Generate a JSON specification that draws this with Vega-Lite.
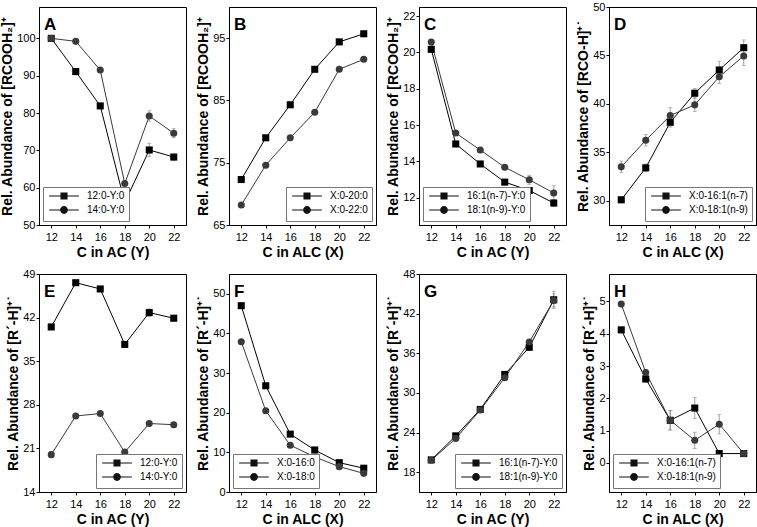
{
"$schema": "https://vega.github.io/schema/vega-lite/v6.json",
"padding": {"left": 0, "top": 0, "right": 0, "bottom": 0},
"background": "white",
"data": {"values": [
{"p":"A","s":"12:0-Y:0","x":12,"v":100,"e":0.4},{"p":"A","s":"12:0-Y:0","x":14,"v":91.1,"e":0.4},{"p":"A","s":"12:0-Y:0","x":16,"v":81.9,"e":0.4},{"p":"A","s":"12:0-Y:0","x":18,"v":56.0,"e":0.5},{"p":"A","s":"12:0-Y:0","x":20,"v":70.1,"e":1.8},{"p":"A","s":"12:0-Y:0","x":22,"v":68.2,"e":0.8},
{"p":"A","s":"14:0-Y:0","x":12,"v":100,"e":0.3},{"p":"A","s":"14:0-Y:0","x":14,"v":99.2,"e":0.3},{"p":"A","s":"14:0-Y:0","x":16,"v":91.5,"e":0.4},{"p":"A","s":"14:0-Y:0","x":18,"v":61.1,"e":0.5},{"p":"A","s":"14:0-Y:0","x":20,"v":79.2,"e":1.4},{"p":"A","s":"14:0-Y:0","x":22,"v":74.6,"e":1.2},
{"p":"B","s":"X:0-20:0","x":12,"v":72.3,"e":0.3},{"p":"B","s":"X:0-20:0","x":14,"v":79.0,"e":0.3},{"p":"B","s":"X:0-20:0","x":16,"v":84.3,"e":0.3},{"p":"B","s":"X:0-20:0","x":18,"v":90.0,"e":0.3},{"p":"B","s":"X:0-20:0","x":20,"v":94.4,"e":0.3},{"p":"B","s":"X:0-20:0","x":22,"v":95.7,"e":0.3},
{"p":"B","s":"X:0-22:0","x":12,"v":68.2,"e":0.3},{"p":"B","s":"X:0-22:0","x":14,"v":74.6,"e":0.3},{"p":"B","s":"X:0-22:0","x":16,"v":79.0,"e":0.3},{"p":"B","s":"X:0-22:0","x":18,"v":83.1,"e":0.3},{"p":"B","s":"X:0-22:0","x":20,"v":90.0,"e":0.3},{"p":"B","s":"X:0-22:0","x":22,"v":91.6,"e":0.3},
{"p":"C","s":"16:1(n-7)-Y:0","x":12,"v":20.17,"e":0.1},{"p":"C","s":"16:1(n-7)-Y:0","x":14,"v":14.96,"e":0.1},{"p":"C","s":"16:1(n-7)-Y:0","x":16,"v":13.86,"e":0.1},{"p":"C","s":"16:1(n-7)-Y:0","x":18,"v":12.86,"e":0.1},{"p":"C","s":"16:1(n-7)-Y:0","x":20,"v":12.40,"e":0.1},{"p":"C","s":"16:1(n-7)-Y:0","x":22,"v":11.71,"e":0.2},
{"p":"C","s":"18:1(n-9)-Y:0","x":12,"v":20.57,"e":0.1},{"p":"C","s":"18:1(n-9)-Y:0","x":14,"v":15.56,"e":0.1},{"p":"C","s":"18:1(n-9)-Y:0","x":16,"v":14.63,"e":0.1},{"p":"C","s":"18:1(n-9)-Y:0","x":18,"v":13.68,"e":0.1},{"p":"C","s":"18:1(n-9)-Y:0","x":20,"v":12.99,"e":0.25},{"p":"C","s":"18:1(n-9)-Y:0","x":22,"v":12.26,"e":0.4},
{"p":"D","s":"X:0-16:1(n-7)","x":12,"v":30.1,"e":0.3},{"p":"D","s":"X:0-16:1(n-7)","x":14,"v":33.4,"e":0.4},{"p":"D","s":"X:0-16:1(n-7)","x":16,"v":38.1,"e":0.5},{"p":"D","s":"X:0-16:1(n-7)","x":18,"v":41.1,"e":0.5},{"p":"D","s":"X:0-16:1(n-7)","x":20,"v":43.5,"e":0.9},{"p":"D","s":"X:0-16:1(n-7)","x":22,"v":45.8,"e":0.8},
{"p":"D","s":"X:0-18:1(n-9)","x":12,"v":33.5,"e":0.6},{"p":"D","s":"X:0-18:1(n-9)","x":14,"v":36.25,"e":0.6},{"p":"D","s":"X:0-18:1(n-9)","x":16,"v":38.8,"e":0.8},{"p":"D","s":"X:0-18:1(n-9)","x":18,"v":39.9,"e":0.7},{"p":"D","s":"X:0-18:1(n-9)","x":20,"v":42.8,"e":0.7},{"p":"D","s":"X:0-18:1(n-9)","x":22,"v":44.95,"e":1.0},
{"p":"E","s":"12:0-Y:0","x":12,"v":40.5,"e":0.3},{"p":"E","s":"12:0-Y:0","x":14,"v":47.6,"e":0.3},{"p":"E","s":"12:0-Y:0","x":16,"v":46.6,"e":0.3},{"p":"E","s":"12:0-Y:0","x":18,"v":37.7,"e":0.3},{"p":"E","s":"12:0-Y:0","x":20,"v":42.8,"e":0.6},{"p":"E","s":"12:0-Y:0","x":22,"v":41.9,"e":0.4},
{"p":"E","s":"14:0-Y:0","x":12,"v":20.0,"e":0.3},{"p":"E","s":"14:0-Y:0","x":14,"v":26.2,"e":0.3},{"p":"E","s":"14:0-Y:0","x":16,"v":26.6,"e":0.3},{"p":"E","s":"14:0-Y:0","x":18,"v":20.4,"e":0.3},{"p":"E","s":"14:0-Y:0","x":20,"v":25.0,"e":0.3},{"p":"E","s":"14:0-Y:0","x":22,"v":24.8,"e":0.3},
{"p":"F","s":"X:0-16:0","x":12,"v":47.0,"e":0.3},{"p":"F","s":"X:0-16:0","x":14,"v":26.8,"e":0.3},{"p":"F","s":"X:0-16:0","x":16,"v":14.6,"e":0.3},{"p":"F","s":"X:0-16:0","x":18,"v":10.6,"e":0.3},{"p":"F","s":"X:0-16:0","x":20,"v":7.4,"e":0.3},{"p":"F","s":"X:0-16:0","x":22,"v":6.0,"e":0.3},
{"p":"F","s":"X:0-18:0","x":12,"v":37.9,"e":0.3},{"p":"F","s":"X:0-18:0","x":14,"v":20.5,"e":0.3},{"p":"F","s":"X:0-18:0","x":16,"v":11.8,"e":0.3},{"p":"F","s":"X:0-18:0","x":18,"v":8.85,"e":0.3},{"p":"F","s":"X:0-18:0","x":20,"v":6.4,"e":0.3},{"p":"F","s":"X:0-18:0","x":22,"v":4.7,"e":0.3},
{"p":"G","s":"16:1(n-7)-Y:0","x":12,"v":19.86,"e":0.2},{"p":"G","s":"16:1(n-7)-Y:0","x":14,"v":23.5,"e":0.2},{"p":"G","s":"16:1(n-7)-Y:0","x":16,"v":27.5,"e":0.3},{"p":"G","s":"16:1(n-7)-Y:0","x":18,"v":32.8,"e":0.3},{"p":"G","s":"16:1(n-7)-Y:0","x":20,"v":36.9,"e":0.4},{"p":"G","s":"16:1(n-7)-Y:0","x":22,"v":44.1,"e":1.3},
{"p":"G","s":"18:1(n-9)-Y:0","x":12,"v":19.8,"e":0.2},{"p":"G","s":"18:1(n-9)-Y:0","x":14,"v":23.1,"e":0.2},{"p":"G","s":"18:1(n-9)-Y:0","x":16,"v":27.4,"e":0.3},{"p":"G","s":"18:1(n-9)-Y:0","x":18,"v":32.3,"e":0.3},{"p":"G","s":"18:1(n-9)-Y:0","x":20,"v":37.7,"e":0.4},{"p":"G","s":"18:1(n-9)-Y:0","x":22,"v":44.0,"e":1.0},
{"p":"H","s":"X:0-16:1(n-7)","x":12,"v":4.12,"e":0.05},{"p":"H","s":"X:0-16:1(n-7)","x":14,"v":2.6,"e":0.1},{"p":"H","s":"X:0-16:1(n-7)","x":16,"v":1.32,"e":0.3},{"p":"H","s":"X:0-16:1(n-7)","x":18,"v":1.7,"e":0.33},{"p":"H","s":"X:0-16:1(n-7)","x":20,"v":0.29,"e":0.05},{"p":"H","s":"X:0-16:1(n-7)","x":22,"v":0.29,"e":0.05},
{"p":"H","s":"X:0-18:1(n-9)","x":12,"v":4.92,"e":0.05},{"p":"H","s":"X:0-18:1(n-9)","x":14,"v":2.8,"e":0.1},{"p":"H","s":"X:0-18:1(n-9)","x":16,"v":1.32,"e":0.3},{"p":"H","s":"X:0-18:1(n-9)","x":18,"v":0.7,"e":0.25},{"p":"H","s":"X:0-18:1(n-9)","x":20,"v":1.2,"e":0.3},{"p":"H","s":"X:0-18:1(n-9)","x":22,"v":0.29,"e":0.05}
]},
"columns": 4,
"spacing": {"row": 49, "column": 43},
"bounds": "flush",
"resolve": {"scale": {"x": "independent", "y": "independent", "shape": "independent", "color": "independent"}, "legend": {"shape": "independent", "color": "independent"}},
"concat": [
{"title": {"text": "A", "offset": -27}, "width": 147, "height": 218, "transform": [{"filter": "datum.p === 'A'"}],
 "encoding": {"x": {"field": "x", "type": "quantitative", "scale": {"domain": [11, 23], "nice": false, "zero": false}, "axis": {"values": [12,14,16,18,20,22], "title": "C in AC (Y)"}},
  "y": {"field": "v", "type": "quantitative", "scale": {"domain": [50, 108.4], "nice": false, "zero": false}, "axis": {"values": [50,60,70,80,90,100], "title": "Rel. Abundance of [RCOOH₂]⁺"}}},
 "resolve": {"scale": {"shape": "independent"}, "legend": {"shape": "independent"}},
 "layer": [
  {"mark": {"type": "errorbar", "ticks": {"size": 4}, "color": "#888", "thickness": 0.8}, "encoding": {"yError": {"field": "e"}}},
  {"mark": {"type": "line", "strokeWidth": 1}, "encoding": {"color": {"field": "s", "type": "nominal", "scale": {"range": ["#000000", "#3a3a3a"]}, "legend": null}}},
  {"mark": {"type": "point", "filled": true, "size": 50, "opacity": 1}, "encoding": {"color": {"field": "s", "type": "nominal", "scale": {"range": ["#000000", "#3a3a3a"]}, "legend": null}, "shape": {"field": "s", "type": "nominal", "scale": {"range": ["square", "circle"]}, "legend": null}}},
  {"transform": [{"filter": "false"}], "mark": {"type": "point", "filled": true, "color": "#111", "opacity": 1},
   "encoding": {"shape": {"field": "s", "type": "nominal", "scale": {"domain": ["12:0-Y:0", "14:0-Y:0"], "range": ["M-4.2,-0.15H4.2V0.15H-4.2ZM-1,-1H1V1H-1Z", "M-4.2,-0.15H4.2V0.15H-4.2ZM1.1,0A1.1,1.1,0,1,1,-1.1,0A1.1,1.1,0,1,1,1.1,0Z"]}, "legend": {"title": null, "orient": "bottom-left"}}}}
 ]},
{"title": {"text": "B", "offset": -27}, "width": 147, "height": 218, "transform": [{"filter": "datum.p === 'B'"}],
 "encoding": {"x": {"field": "x", "type": "quantitative", "scale": {"domain": [11, 23], "nice": false, "zero": false}, "axis": {"values": [12,14,16,18,20,22], "title": "C in ALC (X)"}},
  "y": {"field": "v", "type": "quantitative", "scale": {"domain": [65, 100], "nice": false, "zero": false}, "axis": {"values": [65,75,85,95], "title": "Rel. Abundance of [RCOOH₂]⁺"}}},
 "resolve": {"scale": {"shape": "independent"}, "legend": {"shape": "independent"}},
 "layer": [
  {"mark": {"type": "errorbar", "ticks": {"size": 4}, "color": "#888", "thickness": 0.8}, "encoding": {"yError": {"field": "e"}}},
  {"mark": {"type": "line", "strokeWidth": 1}, "encoding": {"color": {"field": "s", "type": "nominal", "scale": {"range": ["#000000", "#3a3a3a"]}, "legend": null}}},
  {"mark": {"type": "point", "filled": true, "size": 50, "opacity": 1}, "encoding": {"color": {"field": "s", "type": "nominal", "scale": {"range": ["#000000", "#3a3a3a"]}, "legend": null}, "shape": {"field": "s", "type": "nominal", "scale": {"range": ["square", "circle"]}, "legend": null}}},
  {"transform": [{"filter": "false"}], "mark": {"type": "point", "filled": true, "color": "#111", "opacity": 1},
   "encoding": {"shape": {"field": "s", "type": "nominal", "scale": {"domain": ["X:0-20:0", "X:0-22:0"], "range": ["M-4.2,-0.15H4.2V0.15H-4.2ZM-1,-1H1V1H-1Z", "M-4.2,-0.15H4.2V0.15H-4.2ZM1.1,0A1.1,1.1,0,1,1,-1.1,0A1.1,1.1,0,1,1,1.1,0Z"]}, "legend": {"title": null, "orient": "bottom-right"}}}}
 ]},
{"title": {"text": "C", "offset": -27}, "width": 147, "height": 218, "transform": [{"filter": "datum.p === 'C'"}],
 "encoding": {"x": {"field": "x", "type": "quantitative", "scale": {"domain": [11, 23], "nice": false, "zero": false}, "axis": {"values": [12,14,16,18,20,22], "title": "C in AC (Y)"}},
  "y": {"field": "v", "type": "quantitative", "scale": {"domain": [10.5, 22.5], "nice": false, "zero": false}, "axis": {"values": [12,14,16,18,20,22], "title": "Rel. Abundance of [RCOOH₂]⁺"}}},
 "resolve": {"scale": {"shape": "independent"}, "legend": {"shape": "independent"}},
 "layer": [
  {"mark": {"type": "errorbar", "ticks": {"size": 4}, "color": "#888", "thickness": 0.8}, "encoding": {"yError": {"field": "e"}}},
  {"mark": {"type": "line", "strokeWidth": 1}, "encoding": {"color": {"field": "s", "type": "nominal", "scale": {"range": ["#000000", "#3a3a3a"]}, "legend": null}}},
  {"mark": {"type": "point", "filled": true, "size": 50, "opacity": 1}, "encoding": {"color": {"field": "s", "type": "nominal", "scale": {"range": ["#000000", "#3a3a3a"]}, "legend": null}, "shape": {"field": "s", "type": "nominal", "scale": {"range": ["square", "circle"]}, "legend": null}}},
  {"transform": [{"filter": "false"}], "mark": {"type": "point", "filled": true, "color": "#111", "opacity": 1},
   "encoding": {"shape": {"field": "s", "type": "nominal", "scale": {"domain": ["16:1(n-7)-Y:0", "18:1(n-9)-Y:0"], "range": ["M-4.2,-0.15H4.2V0.15H-4.2ZM-1,-1H1V1H-1Z", "M-4.2,-0.15H4.2V0.15H-4.2ZM1.1,0A1.1,1.1,0,1,1,-1.1,0A1.1,1.1,0,1,1,1.1,0Z"]}, "legend": {"title": null, "orient": "bottom-left"}}}}
 ]},
{"title": {"text": "D", "offset": -33}, "width": 147, "height": 218, "transform": [{"filter": "datum.p === 'D'"}],
 "encoding": {"x": {"field": "x", "type": "quantitative", "scale": {"domain": [11, 23], "nice": false, "zero": false}, "axis": {"values": [12,14,16,18,20,22], "title": "C in ALC (X)"}},
  "y": {"field": "v", "type": "quantitative", "scale": {"domain": [27.5, 50], "nice": false, "zero": false}, "axis": {"values": [30,35,40,45,50], "title": "Rel. Abundance of [RCO-H]⁺˙"}}},
 "resolve": {"scale": {"shape": "independent"}, "legend": {"shape": "independent"}},
 "layer": [
  {"mark": {"type": "errorbar", "ticks": {"size": 4}, "color": "#888", "thickness": 0.8}, "encoding": {"yError": {"field": "e"}}},
  {"mark": {"type": "line", "strokeWidth": 1}, "encoding": {"color": {"field": "s", "type": "nominal", "scale": {"range": ["#000000", "#3a3a3a"]}, "legend": null}}},
  {"mark": {"type": "point", "filled": true, "size": 50, "opacity": 1}, "encoding": {"color": {"field": "s", "type": "nominal", "scale": {"range": ["#000000", "#3a3a3a"]}, "legend": null}, "shape": {"field": "s", "type": "nominal", "scale": {"range": ["square", "circle"]}, "legend": null}}},
  {"transform": [{"filter": "false"}], "mark": {"type": "point", "filled": true, "color": "#111", "opacity": 1},
   "encoding": {"shape": {"field": "s", "type": "nominal", "scale": {"domain": ["X:0-16:1(n-7)", "X:0-18:1(n-9)"], "range": ["M-4.2,-0.15H4.2V0.15H-4.2ZM-1,-1H1V1H-1Z", "M-4.2,-0.15H4.2V0.15H-4.2ZM1.1,0A1.1,1.1,0,1,1,-1.1,0A1.1,1.1,0,1,1,1.1,0Z"]}, "legend": {"title": null, "orient": "bottom-right"}}}}
 ]},
{"title": {"text": "E", "offset": -33}, "width": 147, "height": 218, "transform": [{"filter": "datum.p === 'E'"}],
 "encoding": {"x": {"field": "x", "type": "quantitative", "scale": {"domain": [11, 23], "nice": false, "zero": false}, "axis": {"values": [12,14,16,18,20,22], "title": "C in AC (Y)"}},
  "y": {"field": "v", "type": "quantitative", "scale": {"domain": [14, 49], "nice": false, "zero": false}, "axis": {"values": [14,21,28,35,42,49], "title": "Rel. Abundance of [R´-H]⁺˙"}}},
 "resolve": {"scale": {"shape": "independent"}, "legend": {"shape": "independent"}},
 "layer": [
  {"mark": {"type": "errorbar", "ticks": {"size": 4}, "color": "#888", "thickness": 0.8}, "encoding": {"yError": {"field": "e"}}},
  {"mark": {"type": "line", "strokeWidth": 1}, "encoding": {"color": {"field": "s", "type": "nominal", "scale": {"range": ["#000000", "#3a3a3a"]}, "legend": null}}},
  {"mark": {"type": "point", "filled": true, "size": 50, "opacity": 1}, "encoding": {"color": {"field": "s", "type": "nominal", "scale": {"range": ["#000000", "#3a3a3a"]}, "legend": null}, "shape": {"field": "s", "type": "nominal", "scale": {"range": ["square", "circle"]}, "legend": null}}},
  {"transform": [{"filter": "false"}], "mark": {"type": "point", "filled": true, "color": "#111", "opacity": 1},
   "encoding": {"shape": {"field": "s", "type": "nominal", "scale": {"domain": ["12:0-Y:0", "14:0-Y:0"], "range": ["M-4.2,-0.15H4.2V0.15H-4.2ZM-1,-1H1V1H-1Z", "M-4.2,-0.15H4.2V0.15H-4.2ZM1.1,0A1.1,1.1,0,1,1,-1.1,0A1.1,1.1,0,1,1,1.1,0Z"]}, "legend": {"title": null, "orient": "bottom-right"}}}}
 ]},
{"title": {"text": "F", "offset": -27}, "width": 147, "height": 218, "transform": [{"filter": "datum.p === 'F'"}],
 "encoding": {"x": {"field": "x", "type": "quantitative", "scale": {"domain": [11, 23], "nice": false, "zero": false}, "axis": {"values": [12,14,16,18,20,22], "title": "C in ALC (X)"}},
  "y": {"field": "v", "type": "quantitative", "scale": {"domain": [0, 55], "nice": false, "zero": false}, "axis": {"values": [0,10,20,30,40,50], "title": "Rel. Abundance of [R´-H]⁺˙"}}},
 "resolve": {"scale": {"shape": "independent"}, "legend": {"shape": "independent"}},
 "layer": [
  {"mark": {"type": "errorbar", "ticks": {"size": 4}, "color": "#888", "thickness": 0.8}, "encoding": {"yError": {"field": "e"}}},
  {"mark": {"type": "line", "strokeWidth": 1}, "encoding": {"color": {"field": "s", "type": "nominal", "scale": {"range": ["#000000", "#3a3a3a"]}, "legend": null}}},
  {"mark": {"type": "point", "filled": true, "size": 50, "opacity": 1}, "encoding": {"color": {"field": "s", "type": "nominal", "scale": {"range": ["#000000", "#3a3a3a"]}, "legend": null}, "shape": {"field": "s", "type": "nominal", "scale": {"range": ["square", "circle"]}, "legend": null}}},
  {"transform": [{"filter": "false"}], "mark": {"type": "point", "filled": true, "color": "#111", "opacity": 1},
   "encoding": {"shape": {"field": "s", "type": "nominal", "scale": {"domain": ["X:0-16:0", "X:0-18:0"], "range": ["M-4.2,-0.15H4.2V0.15H-4.2ZM-1,-1H1V1H-1Z", "M-4.2,-0.15H4.2V0.15H-4.2ZM1.1,0A1.1,1.1,0,1,1,-1.1,0A1.1,1.1,0,1,1,1.1,0Z"]}, "legend": {"title": null, "orient": "bottom-left"}}}}
 ]},
{"title": {"text": "G", "offset": -33}, "width": 147, "height": 218, "transform": [{"filter": "datum.p === 'G'"}],
 "encoding": {"x": {"field": "x", "type": "quantitative", "scale": {"domain": [11, 23], "nice": false, "zero": false}, "axis": {"values": [12,14,16,18,20,22], "title": "C in AC (Y)"}},
  "y": {"field": "v", "type": "quantitative", "scale": {"domain": [15, 48], "nice": false, "zero": false}, "axis": {"values": [18,24,30,36,42,48], "title": "Rel. Abundance of [R´-H]⁺˙"}}},
 "resolve": {"scale": {"shape": "independent"}, "legend": {"shape": "independent"}},
 "layer": [
  {"mark": {"type": "errorbar", "ticks": {"size": 4}, "color": "#888", "thickness": 0.8}, "encoding": {"yError": {"field": "e"}}},
  {"mark": {"type": "line", "strokeWidth": 1}, "encoding": {"color": {"field": "s", "type": "nominal", "scale": {"range": ["#000000", "#3a3a3a"]}, "legend": null}}},
  {"mark": {"type": "point", "filled": true, "size": 50, "opacity": 1}, "encoding": {"color": {"field": "s", "type": "nominal", "scale": {"range": ["#000000", "#3a3a3a"]}, "legend": null}, "shape": {"field": "s", "type": "nominal", "scale": {"range": ["square", "circle"]}, "legend": null}}},
  {"transform": [{"filter": "false"}], "mark": {"type": "point", "filled": true, "color": "#111", "opacity": 1},
   "encoding": {"shape": {"field": "s", "type": "nominal", "scale": {"domain": ["16:1(n-7)-Y:0", "18:1(n-9)-Y:0"], "range": ["M-4.2,-0.15H4.2V0.15H-4.2ZM-1,-1H1V1H-1Z", "M-4.2,-0.15H4.2V0.15H-4.2ZM1.1,0A1.1,1.1,0,1,1,-1.1,0A1.1,1.1,0,1,1,1.1,0Z"]}, "legend": {"title": null, "orient": "bottom-right"}}}}
 ]},
{"title": {"text": "H", "offset": -27}, "width": 147, "height": 218, "transform": [{"filter": "datum.p === 'H'"}],
 "encoding": {"x": {"field": "x", "type": "quantitative", "scale": {"domain": [11, 23], "nice": false, "zero": false}, "axis": {"values": [12,14,16,18,20,22], "title": "C in ALC (X)"}},
  "y": {"field": "v", "type": "quantitative", "scale": {"domain": [-0.9, 5.85], "nice": false, "zero": false}, "axis": {"values": [0,1,2,3,4,5], "title": "Rel. Abundance of [R´-H]⁺˙"}}},
 "resolve": {"scale": {"shape": "independent"}, "legend": {"shape": "independent"}},
 "layer": [
  {"mark": {"type": "errorbar", "ticks": {"size": 4}, "color": "#888", "thickness": 0.8}, "encoding": {"yError": {"field": "e"}}},
  {"mark": {"type": "line", "strokeWidth": 1}, "encoding": {"color": {"field": "s", "type": "nominal", "scale": {"range": ["#000000", "#3a3a3a"]}, "legend": null}}},
  {"mark": {"type": "point", "filled": true, "size": 50, "opacity": 1}, "encoding": {"color": {"field": "s", "type": "nominal", "scale": {"range": ["#000000", "#3a3a3a"]}, "legend": null}, "shape": {"field": "s", "type": "nominal", "scale": {"range": ["square", "circle"]}, "legend": null}}},
  {"transform": [{"filter": "false"}], "mark": {"type": "point", "filled": true, "color": "#111", "opacity": 1},
   "encoding": {"shape": {"field": "s", "type": "nominal", "scale": {"domain": ["X:0-16:1(n-7)", "X:0-18:1(n-9)"], "range": ["M-4.2,-0.15H4.2V0.15H-4.2ZM-1,-1H1V1H-1Z", "M-4.2,-0.15H4.2V0.15H-4.2ZM1.1,0A1.1,1.1,0,1,1,-1.1,0A1.1,1.1,0,1,1,1.1,0Z"]}, "legend": {"title": null, "orient": "bottom-left"}}}}
 ]}
],
"config": {
 "font": "Liberation Sans",
 "view": {"stroke": "black", "strokeWidth": 1},
 "axis": {"grid": false, "domainColor": "black", "tickColor": "black", "labelColor": "black", "titleColor": "black", "labelFont": "Liberation Sans", "titleFont": "Liberation Sans", "labelFontSize": 11, "titleFontSize": 14, "titleFontWeight": "bold", "tickSize": 3, "labelPadding": 1},
 "axisX": {"labelPadding": 3, "titlePadding": 3},
 "axisY": {"titlePadding": 2},
 "legend": {"labelFont": "Liberation Sans", "labelFontSize": 10, "labelColor": "black", "strokeColor": "#777", "fillColor": "white", "padding": 4, "rowPadding": 0, "symbolSize": 50, "symbolOffset": 12, "labelOffset": 18, "offset": 4},
 "title": {"font": "Liberation Sans", "fontSize": 17, "fontWeight": "bold", "color": "black", "anchor": "start", "frame": "group", "baseline": "alphabetic", "dx": 5}
}
}
